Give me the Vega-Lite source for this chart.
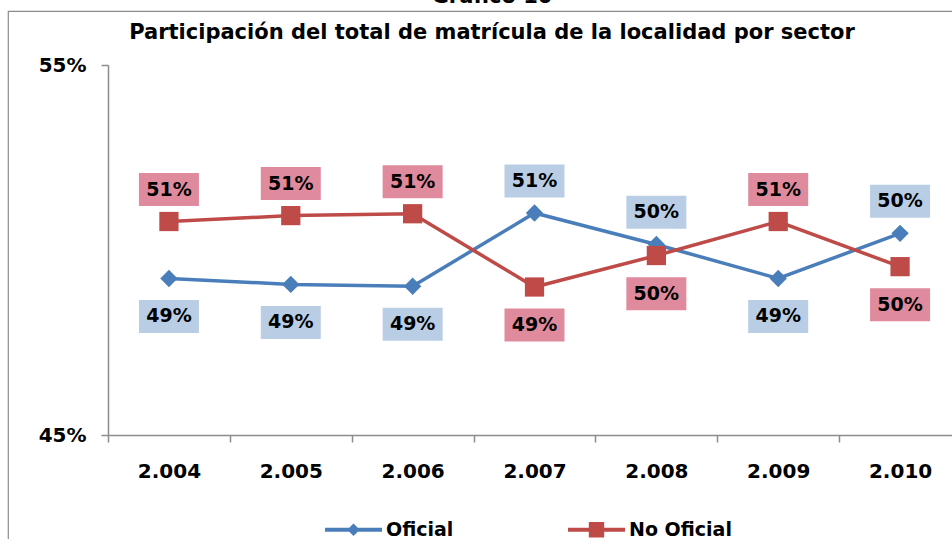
{
  "$schema": "https://vega.github.io/schema/vega-lite/v6.json",
  "autosize": "none",
  "width": 946,
  "height": 530,
  "padding": {"left": 8, "top": 11, "right": -2, "bottom": -2},
  "background": "white",
  "config": {
    "font": "DejaVu Sans",
    "view": {"stroke": "#8c8c8c", "strokeWidth": 1.2}
  },
  "title": {
    "text": ["Gráfico 10", "Participación del total de matrícula de la localidad por sector"],
    "anchor": "middle",
    "frame": "group",
    "baseline": "bottom",
    "offset": 0,
    "dy": 53,
    "lineHeight": 36,
    "dx": 11,
    "fontSize": 21,
    "font": "DejaVu Sans",
    "fontWeight": "bold",
    "color": "black"
  },
  "data": {
    "values": [
      {"anio": "2.004", "serie": "Oficial", "valor": 0.4923},
      {"anio": "2.005", "serie": "Oficial", "valor": 0.4907},
      {"anio": "2.006", "serie": "Oficial", "valor": 0.4902},
      {"anio": "2.007", "serie": "Oficial", "valor": 0.5100},
      {"anio": "2.008", "serie": "Oficial", "valor": 0.5015},
      {"anio": "2.009", "serie": "Oficial", "valor": 0.4923},
      {"anio": "2.010", "serie": "Oficial", "valor": 0.5045},
      {"anio": "2.004", "serie": "No Oficial", "valor": 0.5077},
      {"anio": "2.005", "serie": "No Oficial", "valor": 0.5093},
      {"anio": "2.006", "serie": "No Oficial", "valor": 0.5098},
      {"anio": "2.007", "serie": "No Oficial", "valor": 0.4900},
      {"anio": "2.008", "serie": "No Oficial", "valor": 0.4985},
      {"anio": "2.009", "serie": "No Oficial", "valor": 0.5077},
      {"anio": "2.010", "serie": "No Oficial", "valor": 0.4955}
    ]
  },
  "transform": [
    {"joinaggregate": [{"op": "max", "field": "valor", "as": "maxv"}], "groupby": ["anio"]}
  ],
  "encoding": {
    "x": {
      "field": "anio",
      "type": "nominal",
      "sort": null,
      "scale": {"type": "band", "range": [100, 953], "paddingInner": 0, "paddingOuter": 0},
      "axis": {
        "orient": "bottom",
        "offset": -106,
        "title": null,
        "tickBand": "extent",
        "tickSize": 7,
        "tickColor": "#8c8c8c",
        "tickWidth": 1.5,
        "domainColor": "#8c8c8c",
        "domainWidth": 1.5,
        "labelAngle": 0,
        "labelFont": "DejaVu Sans",
        "labelFontSize": 20,
        "labelFontWeight": "bold",
        "labelColor": "black",
        "labelPadding": 19,
        "grid": false
      }
    },
    "y": {
      "field": "valor",
      "type": "quantitative",
      "scale": {"domain": [0.45, 0.55], "range": [424, 54], "nice": false, "zero": false},
      "axis": {
        "orient": "left",
        "offset": -100,
        "title": null,
        "values": [0.45, 0.55],
        "format": ".0%",
        "tickSize": 7,
        "tickColor": "#8c8c8c",
        "tickWidth": 1.5,
        "domainColor": "#8c8c8c",
        "domainWidth": 1.5,
        "labelFont": "DejaVu Sans",
        "labelFontSize": 20,
        "labelFontWeight": "bold",
        "labelColor": "black",
        "labelPadding": 15,
        "grid": false
      }
    }
  },
  "layer": [
    {
      "mark": {"type": "line", "strokeWidth": 3.5},
      "encoding": {
        "color": {
          "field": "serie",
          "type": "nominal",
          "scale": {"domain": ["Oficial", "No Oficial"], "range": ["#4A7EBB", "#BE4B48"]},
          "legend": {
            "orient": "none",
            "legendX": 317,
            "legendY": 490,
            "direction": "horizontal",
            "title": null,
            "padding": 0,
            "symbolSize": 3249,
            "symbolStrokeWidth": 0,
            "labelOffset": 4,
            "columnPadding": 114,
            "labelFont": "DejaVu Sans",
            "labelFontSize": 19,
            "labelFontWeight": "bold",
            "labelColor": "black",
            "encode": {
              "symbols": {
                "update": {
                  "shape": {"signal": "datum.value === 'Oficial' ? 'M-1,-0.07L1,-0.07L1,0.07L-1,0.07Z M0,-0.22L0.22,0L0,0.22L-0.22,0Z' : 'M-1,-0.07L1,-0.07L1,0.07L-1,0.07Z M-0.27,-0.27L0.27,-0.27L0.27,0.27L-0.27,0.27Z'"},
                  "fill": {"signal": "datum.value === 'Oficial' ? '#4A7EBB' : '#BE4B48'"},
                  "fillOpacity": {"value": 1},
                  "strokeWidth": {"value": 0},
                  "opacity": {"value": 1}
                }
              }
            }
          }
        }
      }
    },
    {
      "transform": [{"filter": "datum.serie === 'Oficial'"}],
      "mark": {"type": "point", "filled": true, "opacity": 1, "shape": "diamond", "size": 300},
      "encoding": {
        "color": {"field": "serie", "type": "nominal"}
      }
    },
    {
      "transform": [{"filter": "datum.serie === 'No Oficial'"}],
      "mark": {"type": "point", "filled": true, "opacity": 1, "shape": "square", "size": 370},
      "encoding": {
        "color": {"field": "serie", "type": "nominal"}
      }
    },
    {
      "transform": [{"filter": "datum.valor >= datum.maxv"}],
      "mark": {"type": "point", "filled": true, "opacity": 1, "strokeWidth": 0, "size": 3600, "shape": "M-1,-1.62L1,-1.62L1,-0.52L-1,-0.52Z"},
      "encoding": {
        "fill": {
          "field": "serie",
          "type": "nominal",
          "scale": {"domain": ["Oficial", "No Oficial"], "range": ["#B9CDE5", "#E08A9D"]},
          "legend": null
        }
      }
    },
    {
      "transform": [{"filter": "datum.valor < datum.maxv"}],
      "mark": {"type": "point", "filled": true, "opacity": 1, "strokeWidth": 0, "size": 3600, "shape": "M-1,0.72L1,0.72L1,1.82L-1,1.82Z"},
      "encoding": {
        "fill": {
          "field": "serie",
          "type": "nominal",
          "scale": {"domain": ["Oficial", "No Oficial"], "range": ["#B9CDE5", "#E08A9D"]},
          "legend": null
        }
      }
    },
    {
      "transform": [{"filter": "datum.valor >= datum.maxv"}],
      "mark": {"type": "text", "dy": -32, "baseline": "middle", "align": "center", "font": "DejaVu Sans", "fontSize": 19, "fontWeight": "bold", "color": "black"},
      "encoding": {
        "text": {"field": "valor", "type": "quantitative", "format": ".0%"}
      }
    },
    {
      "transform": [{"filter": "datum.valor < datum.maxv"}],
      "mark": {"type": "text", "dy": 38, "baseline": "middle", "align": "center", "font": "DejaVu Sans", "fontSize": 19, "fontWeight": "bold", "color": "black"},
      "encoding": {
        "text": {"field": "valor", "type": "quantitative", "format": ".0%"}
      }
    }
  ]
}
